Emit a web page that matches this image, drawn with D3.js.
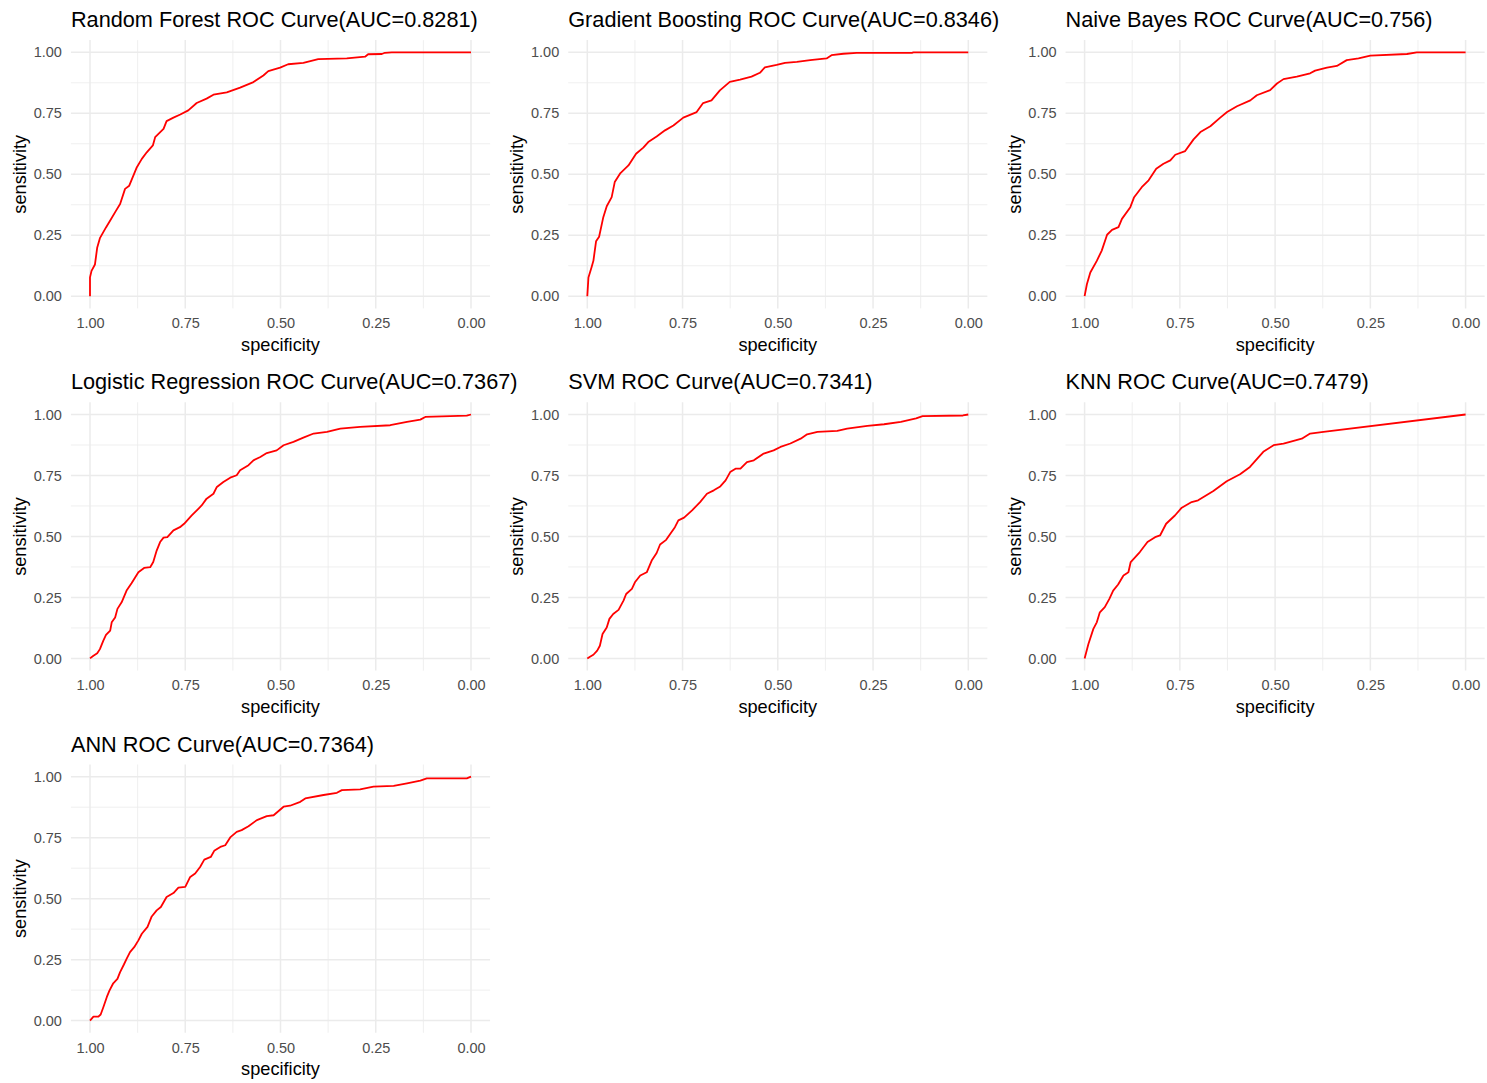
<!DOCTYPE html>
<html>
<head>
<meta charset="utf-8">
<script src="https://cdn.jsdelivr.net/npm/d3@7"></script>
<style>
  html, body { margin: 0; padding: 0; background: #ffffff; }
  svg { display: block; font-family: "Liberation Sans", Arial, sans-serif; }
</style>
</head>
<body>
<svg id="chart" width="1487" height="1083"></svg>
<script>
// ---- Data ----
const models = ["Random Forest", "Gradient Boosting", "Naive Bayes", "Logistic Regression", "SVM", "KNN", "ANN"];
const aucs = ["0.8281", "0.8346", "0.756", "0.7367", "0.7341", "0.7479", "0.7364"];
const tickValues = [1.00, 0.75, 0.50, 0.25, 0.00];
const minorValues = [0.875, 0.625, 0.375, 0.125];

const rfSpec = [1,1,0.996,0.987,0.981,0.974,0.958,0.947,0.932,0.921,0.908,0.897,0.877,0.864,0.851,0.835,0.829,0.807,0.799,0.781,0.763,0.742,0.72,0.694,0.676,0.641,0.606,0.571,0.545,0.532,0.501,0.48,0.44,0.401,0.326,0.278,0.27,0.234,0.226,0.208,0];
const rfSens = [0,0.077,0.104,0.13,0.2,0.238,0.282,0.31,0.35,0.378,0.44,0.453,0.529,0.563,0.59,0.618,0.652,0.686,0.718,0.732,0.745,0.762,0.792,0.81,0.826,0.836,0.855,0.878,0.905,0.923,0.937,0.951,0.957,0.972,0.975,0.982,0.992,0.993,0.998,1,1];

const gbSpec = [1,0.997,0.989,0.984,0.977,0.969,0.958,0.949,0.936,0.928,0.913,0.892,0.872,0.853,0.84,0.818,0.796,0.774,0.748,0.713,0.696,0.674,0.652,0.626,0.599,0.569,0.547,0.534,0.503,0.481,0.45,0.415,0.372,0.359,0.328,0.293,0.148,0.144,0];
const gbSens = [0,0.077,0.118,0.145,0.225,0.244,0.324,0.369,0.406,0.468,0.505,0.536,0.584,0.609,0.632,0.655,0.68,0.7,0.732,0.755,0.792,0.803,0.844,0.879,0.888,0.9,0.916,0.938,0.948,0.957,0.961,0.968,0.975,0.988,0.994,0.998,0.998,1,1];

const nbSpec = [1,0.994,0.985,0.968,0.955,0.941,0.928,0.911,0.902,0.88,0.87,0.85,0.832,0.812,0.793,0.775,0.762,0.736,0.714,0.696,0.67,0.644,0.626,0.6,0.565,0.548,0.513,0.495,0.478,0.443,0.408,0.395,0.364,0.338,0.312,0.281,0.25,0.154,0.128,0];
const nbSens = [0,0.049,0.097,0.145,0.187,0.252,0.272,0.283,0.317,0.365,0.406,0.447,0.475,0.523,0.543,0.557,0.58,0.595,0.643,0.673,0.697,0.732,0.755,0.779,0.803,0.824,0.845,0.872,0.89,0.9,0.914,0.925,0.937,0.944,0.968,0.975,0.986,0.993,1,1];

const lrSpec = [1,0.991,0.981,0.974,0.965,0.958,0.947,0.943,0.934,0.928,0.917,0.904,0.891,0.873,0.858,0.842,0.834,0.825,0.816,0.807,0.797,0.781,0.764,0.753,0.733,0.715,0.707,0.694,0.676,0.667,0.65,0.632,0.615,0.606,0.584,0.571,0.553,0.536,0.51,0.492,0.466,0.44,0.413,0.378,0.343,0.291,0.212,0.168,0.133,0.12,0.011,0];
const lrSens = [0,0.011,0.021,0.038,0.073,0.096,0.114,0.148,0.168,0.203,0.23,0.278,0.308,0.353,0.371,0.374,0.395,0.442,0.477,0.495,0.497,0.525,0.538,0.552,0.586,0.614,0.627,0.655,0.675,0.703,0.723,0.741,0.751,0.771,0.792,0.812,0.826,0.842,0.853,0.874,0.888,0.905,0.922,0.929,0.942,0.949,0.956,0.97,0.979,0.99,0.995,1];

const svmSpec = [1,0.993,0.984,0.974,0.967,0.96,0.949,0.942,0.932,0.918,0.905,0.898,0.883,0.875,0.861,0.844,0.831,0.818,0.809,0.793,0.782,0.77,0.761,0.746,0.725,0.704,0.686,0.668,0.651,0.637,0.625,0.611,0.598,0.581,0.563,0.537,0.511,0.493,0.467,0.44,0.423,0.396,0.344,0.318,0.265,0.221,0.177,0.137,0.12,0.014,0];
const svmSens = [0,0.007,0.015,0.032,0.052,0.1,0.127,0.162,0.182,0.199,0.237,0.264,0.285,0.312,0.34,0.353,0.401,0.432,0.467,0.486,0.511,0.538,0.566,0.577,0.607,0.641,0.675,0.689,0.705,0.73,0.764,0.778,0.778,0.805,0.812,0.84,0.853,0.867,0.881,0.901,0.919,0.929,0.933,0.942,0.953,0.96,0.97,0.984,0.993,0.996,1];

const knnSpec = [1,0.99,0.977,0.968,0.96,0.947,0.935,0.925,0.912,0.898,0.885,0.879,0.855,0.835,0.815,0.802,0.786,0.763,0.745,0.719,0.702,0.662,0.627,0.592,0.566,0.531,0.504,0.478,0.461,0.43,0.408,0.373,0];
const knnSens = [0,0.059,0.121,0.148,0.189,0.21,0.244,0.278,0.303,0.34,0.353,0.395,0.436,0.477,0.497,0.504,0.552,0.586,0.618,0.641,0.648,0.686,0.726,0.755,0.785,0.847,0.874,0.881,0.888,0.901,0.922,0.929,1];

const annSpec = [1,0.991,0.978,0.972,0.965,0.956,0.949,0.939,0.928,0.921,0.911,0.904,0.895,0.884,0.873,0.864,0.849,0.838,0.825,0.814,0.799,0.781,0.768,0.75,0.737,0.724,0.711,0.7,0.683,0.674,0.658,0.645,0.632,0.615,0.602,0.584,0.562,0.536,0.518,0.492,0.475,0.448,0.435,0.387,0.352,0.339,0.291,0.256,0.203,0.168,0.133,0.116,0.011,0];
const annSens = [0,0.016,0.016,0.025,0.055,0.096,0.123,0.153,0.171,0.199,0.23,0.253,0.281,0.301,0.329,0.356,0.384,0.427,0.452,0.466,0.507,0.523,0.545,0.548,0.589,0.603,0.63,0.66,0.671,0.696,0.712,0.719,0.751,0.774,0.781,0.797,0.822,0.838,0.842,0.877,0.881,0.897,0.911,0.925,0.934,0.945,0.948,0.959,0.962,0.973,0.984,0.993,0.993,1];

const specs = [rfSpec, gbSpec, nbSpec, lrSpec, svmSpec, knnSpec, annSpec];
const senss = [rfSens, gbSens, nbSens, lrSens, svmSens, knnSens, annSens];

// ---- Layout ----
const svg = d3.select("#chart");
const colStep = 497.3, rowStep = 362.2;
const x0 = 90, xLen = 381;      // spec=1 position and width for one unit
const y0 = 52.3, yLen = 243.9;  // sens=1 position and height for one unit

models.forEach((name, i) => {
  const col = i % 3, row = Math.floor(i / 3);
  const left = x0 + col * colStep;
  const top = y0 + row * rowStep;
  const x = d3.scaleLinear().domain([1, 0]).range([left, left + xLen]);
  const y = d3.scaleLinear().domain([0, 1]).range([top + yLen, top]);
  const px0 = x(1.05), px1 = x(-0.05), py0 = y(1.05), py1 = y(-0.05);

  const g = svg.append("g");

  // minor grid
  g.selectAll(".vminor").data(minorValues).join("line")
    .attr("x1", d => x(d)).attr("x2", d => x(d)).attr("y1", py0).attr("y2", py1)
    .attr("stroke", "#ebebeb").attr("stroke-width", 0.8);
  g.selectAll(".hminor").data(minorValues).join("line")
    .attr("x1", px0).attr("x2", px1).attr("y1", d => y(d)).attr("y2", d => y(d))
    .attr("stroke", "#ebebeb").attr("stroke-width", 0.8);
  // major grid
  g.selectAll(".vmajor").data(tickValues).join("line")
    .attr("x1", d => x(d)).attr("x2", d => x(d)).attr("y1", py0).attr("y2", py1)
    .attr("stroke", "#ebebeb").attr("stroke-width", 1.5);
  g.selectAll(".hmajor").data(tickValues).join("line")
    .attr("x1", px0).attr("x2", px1).attr("y1", d => y(d)).attr("y2", d => y(d))
    .attr("stroke", "#ebebeb").attr("stroke-width", 1.5);

  // axes
  const xAxis = d3.axisBottom(x).tickValues(tickValues).tickFormat(d3.format(".2f")).tickSize(0).tickPadding(9.5);
  const yAxis = d3.axisLeft(y).tickValues(tickValues).tickFormat(d3.format(".2f")).tickSize(0).tickPadding(9);
  const gx = g.append("g").attr("transform", `translate(0,${py1})`).call(xAxis);
  const gy = g.append("g").attr("transform", `translate(${px0},0)`).call(yAxis);
  [gx, gy].forEach(a => {
    a.select(".domain").remove();
    a.selectAll("text").attr("fill", "#4d4d4d").style("font-size", "14.5px")
      .style("font-family", '"Liberation Sans", Arial, sans-serif');
  });

  // curve
  const pts = specs[i].map((s, k) => [s, senss[i][k]]);
  g.append("path").datum(pts)
    .attr("fill", "none").attr("stroke", "#ff0000").attr("stroke-width", 1.8)
    .attr("stroke-linejoin", "round")
    .attr("d", d3.line().x(d => x(d[0])).y(d => y(d[1])));

  // titles
  g.append("text").attr("x", px0).attr("y", py0 - 13)
    .attr("fill", "#000").style("font-size", "21.7px")
    .text(`${name} ROC Curve(AUC=${aucs[i]})`);
  g.append("text").attr("x", (px0 + px1) / 2).attr("y", py1 + 42.6)
    .attr("text-anchor", "middle").attr("fill", "#000").style("font-size", "18.2px")
    .text("specificity");
  g.append("text")
    .attr("transform", `translate(${px0 - 45},${(py0 + py1) / 2}) rotate(-90)`)
    .attr("text-anchor", "middle").attr("fill", "#000").style("font-size", "18.2px")
    .text("sensitivity");
});
</script>
</body>
</html>
